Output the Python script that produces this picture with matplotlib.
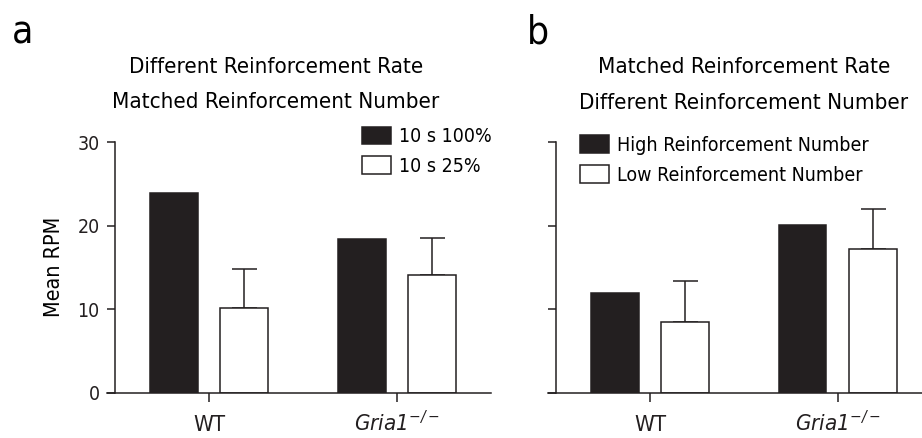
import numpy as np
import matplotlib.pyplot as plt
import matplotlib.font_manager as fm

names = {f.name for f in fm.fontManager.ttflist}
if 'Liberation Sans Narrow' in names:
    FONT = 'Liberation Sans Narrow'
    IT = FONT + ':italic'
else:
    FONT = 'DejaVu Sans'
    IT = 'DejaVu Sans:style=italic:stretch=condensed'
    plt.rcParams['font.stretch'] = 'condensed'
plt.rcParams['font.family'] = [FONT, 'DejaVu Sans']
plt.rcParams['mathtext.fontset'] = 'custom'
plt.rcParams['mathtext.rm'] = IT
plt.rcParams['mathtext.it'] = IT

# data
groups = ['WT', r'$\mathit{Gria1}^{-/-}$']
a_labels = ['10 s 100%', '10 s 25%']
a_black = [23.9, 18.36]
a_white = [10.13, 14.12]
a_white_err = [4.67, 4.36]
b_labels = ['High Reinforcement Number', 'Low Reinforcement Number']
b_black = [11.93, 20.03]
b_white = [8.5, 17.23]
b_white_err = [4.83, 4.79]

BLACK = '#231f20'
W, H = 922, 438
fig = plt.figure(figsize=(W / 100, H / 100), dpi=100)

def fx(px):
    return px / W

def fy(py):
    return 1 - py / H

def panel(rect, xlim, black, white, werr, labels, ylabel, show_yticklabels, leg_xy):
    ax = fig.add_axes(rect)
    x = np.arange(len(groups))
    bw = 0.255
    off = 0.1875
    ax.bar(x - off, black, bw, color=BLACK, edgecolor=BLACK, linewidth=1.1, label=labels[0], zorder=2)
    ax.bar(x + off, white, bw, color='white', edgecolor=BLACK, linewidth=1.1, label=labels[1], zorder=2)
    ax.errorbar(x + off, white, yerr=[np.zeros(len(werr)), werr], fmt='none',
                ecolor=BLACK, elinewidth=1.1, capsize=9, capthick=1.1, zorder=1)
    ax.set_xlim(*xlim)
    ax.set_ylim(0, 30)
    ax.spines['top'].set_visible(False)
    ax.spines['right'].set_visible(False)
    ax.spines['left'].set_position(('data', -0.5))
    for s in ['left', 'bottom']:
        ax.spines[s].set_linewidth(1.1)
        ax.spines[s].set_color(BLACK)
    ax.set_yticks([0, 10, 20, 30])
    ax.set_xticks(x)
    ax.set_xticklabels(groups)
    ax.tick_params(axis='y', length=6, width=1.1, pad=5, labelsize=14, colors=BLACK)
    # baseline-aligned x labels, pad measured down to the baseline
    ax.tick_params(axis='x', length=6.5, width=1.1, pad=21, labelsize=16, colors=BLACK)
    for lbl in ax.get_xticklabels():
        lbl.set_va('baseline')
    if not show_yticklabels:
        ax.set_yticklabels([])
    if ylabel:
        ax.set_ylabel(ylabel, fontsize=15.5, labelpad=10)
    ax.legend(loc='upper left', bbox_to_anchor=leg_xy, bbox_transform=fig.transFigure,
              frameon=False, fontsize=14, handlelength=1.5, handleheight=0.98,
              handletextpad=0.4, labelspacing=0.55, borderpad=0, borderaxespad=0)
    return ax

bottom = fy(392.7)
height = fy(142) - bottom
panel([fx(107), bottom, fx(491 - 107), height], (-0.543, 1.5),
      a_black, a_white, a_white_err, a_labels, 'Mean RPM', True, (fx(362), fy(126.5)))
panel([fx(548), bottom, fx(922 - 548), height], (-0.543, 1.449),
      b_black, b_white, b_white_err, b_labels, None, False, (fx(580), fy(135.5)))

fig.text(fx(276), fy(73), 'Different Reinforcement Rate', ha='center', va='baseline', fontsize=16)
fig.text(fx(276), fy(108), 'Matched Reinforcement Number', ha='center', va='baseline', fontsize=16)
fig.text(fx(744), fy(73), 'Matched Reinforcement Rate', ha='center', va='baseline', fontsize=16)
fig.text(fx(744), fy(109), 'Different Reinforcement Number', ha='center', va='baseline', fontsize=16)
fig.text(fx(12), fy(43), 'a', ha='left', va='baseline', fontsize=28)
fig.text(fx(527), fy(43), 'b', ha='left', va='baseline', fontsize=28)

fig.savefig('out.png', dpi=100)
